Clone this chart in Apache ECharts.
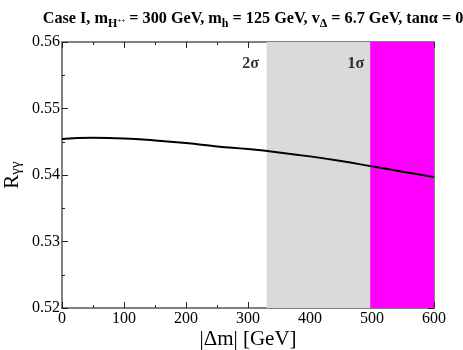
<!DOCTYPE html>
<html>
<head>
<meta charset="utf-8">
<script src="https://cdn.jsdelivr.net/npm/echarts@6/dist/echarts.min.js"></script>
<style>
  html, body { margin: 0; padding: 0; background: #fff; }
  #chart { width: 463px; height: 350px; }
</style>
</head>
<body>
<div id="chart"></div>
<script>
var dm = [0, 50, 100, 150, 200, 250, 300, 350, 400, 450, 500, 550, 600];
var rgg = [0.5454, 0.5456, 0.5455, 0.5452, 0.5448, 0.5443, 0.5439, 0.5434, 0.5428, 0.5421, 0.5413, 0.5405, 0.5397];
var band2s = [330, 497];
var band1s = [497, 600];
var sigmaLabels = [[304, 0.5567, '2σ'], [474, 0.5567, '1σ']];

var font = 'Liberation Serif';
var chart = echarts.init(document.getElementById('chart'));

var axisBase = {
    axisLine: { show: true, onZero: false, lineStyle: { color: '#808080', width: 2 } },
    axisTick: { show: true, inside: true, length: 6, lineStyle: { color: '#222', width: 1 } },
    minorTick: { show: true, splitNumber: 2, length: 3, lineStyle: { color: '#222', width: 1 } },
    splitLine: { show: false },
    nameMoveOverlap: false
};

function xAx(pos, labels){
    return Object.assign({}, axisBase, {
        type: 'value', position: pos, min: 0, max: 600, interval: 100,
        axisLabel: { show: labels, color: '#000', fontFamily: font, fontSize: 16, margin: 3 },
        name: labels ? '|Δm| [GeV]' : '', nameLocation: 'middle', nameGap: 21,
        nameTextStyle: { fontFamily: font, fontSize: 21, color: '#000' }
    });
}
function yAx(pos, labels){
    return Object.assign({}, axisBase, {
        type: 'value', position: pos, min: 0.52, max: 0.56, interval: 0.01,
        axisLabel: { show: labels, color: '#000', fontFamily: font, fontSize: 16, margin: 2,
            formatter: function(v){ return v.toFixed(2); } },
        name: labels ? '{r|R}{s|γγ}' : '', nameLocation: 'middle', nameGap: 38, nameRotate: 90,
        nameTextStyle: { fontFamily: font, fontSize: 21, color: '#000',
            rich: { r: { fontFamily: font, fontSize: 21 },
                    s: { fontFamily: font, fontSize: 15, padding: [9, 0, 0, 0] } } }
    });
}

var option = {
    animation: false,
    backgroundColor: '#fff',
    title: {
        text: '{b|Case I, m}{s|H}{p|++}{b| = 300 GeV, m}{s|h}{b| = 125 GeV, v}{s|Δ}{b| = 6.7 GeV, tanα = 0}',
        left: 248, textAlign: 'center', top: 3,
        textStyle: {
            rich: {
                b: { fontFamily: font, fontWeight: 'bold', fontSize: 16.2, color: '#000' },
                s: { fontFamily: font, fontWeight: 'bold', fontSize: 12, color: '#000', padding: [10, 0, 0, 0] },
                p: { fontFamily: font, fontWeight: 'bold', fontSize: 7, color: '#000', padding: [4, 0, 0, 0] }
            }
        }
    },
    grid: { left: 62, right: 29, top: 42, bottom: 42, containLabel: false, outerBoundsMode: 'none' },
    xAxis: [xAx('bottom', true), xAx('top', false)],
    yAxis: [yAx('left', true), yAx('right', false)],
    series: [
        {
            type: 'line',
            data: dm.map(function(x, i){ return [x, rgg[i]]; }),
            smooth: true,
            showSymbol: false,
            lineStyle: { color: '#000', width: 2 },
            z: 5,
            markArea: {
                silent: true,
                data: [
                    [{ xAxis: band2s[0], itemStyle: { color: '#dadada' } }, { xAxis: band2s[1] }],
                    [{ xAxis: band1s[0], itemStyle: { color: '#ff00ff' } }, { xAxis: band1s[1] }]
                ]
            }
        },
        {
            type: 'scatter',
            symbolSize: 0,
            data: sigmaLabels.map(function(d){ return { value: [d[0], d[1]], name: d[2] }; }),
            label: {
                show: true, position: 'inside',
                formatter: function(p){ return p.name; },
                fontFamily: font, fontWeight: 'bold', fontSize: 16, color: '#000'
            },
            z: 6
        }
    ]
};
chart.setOption(option);
</script>
</body>
</html>
